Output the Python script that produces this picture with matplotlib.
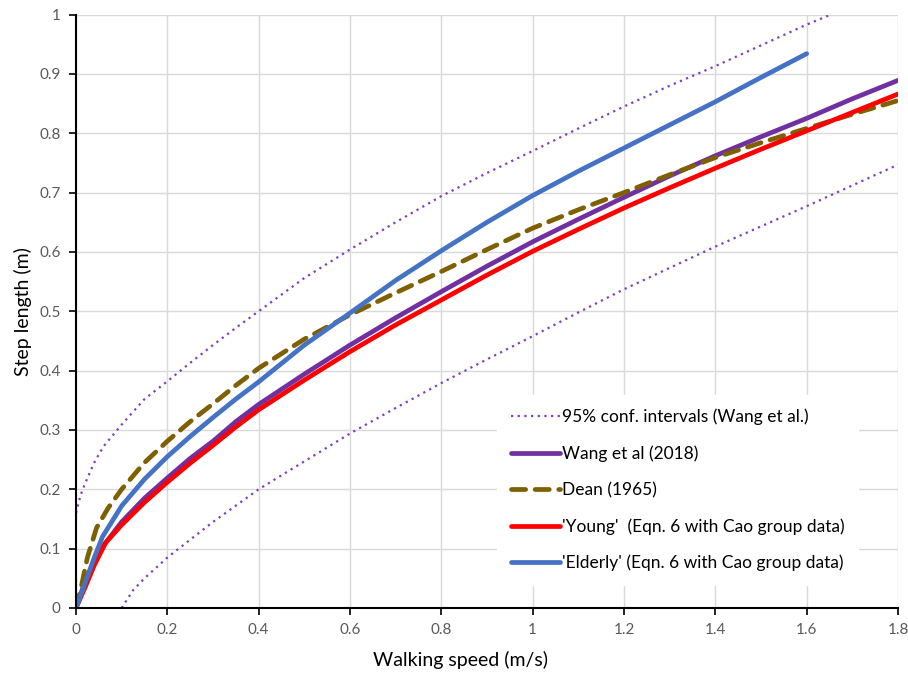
import matplotlib.pyplot as plt

plt.rcParams['font.family'] = ['Lato', 'DejaVu Sans']

# values
wang_x = [0, 0.02, 0.05, 0.1, 0.15, 0.2, 0.25, 0.3, 0.35, 0.4, 0.5, 0.6, 0.7, 0.8, 0.9,
          1.0, 1.1, 1.2, 1.3, 1.4, 1.5, 1.6, 1.7, 1.8]
wang_y = [0, 0.045, 0.095, 0.145, 0.185, 0.219, 0.252, 0.281, 0.314, 0.343, 0.394, 0.443,
          0.489, 0.533, 0.576, 0.617, 0.655, 0.692, 0.728, 0.762, 0.794, 0.825, 0.858, 0.889]

ci_upper_x = [0, 0.01, 0.02, 0.04, 0.06, 0.1, 0.15, 0.2, 0.25, 0.3, 0.35, 0.4, 0.5, 0.6,
              0.7, 0.8, 0.9, 1.0, 1.1, 1.2, 1.3, 1.4, 1.5, 1.6, 1.7]
ci_upper_y = [0.16, 0.19, 0.21, 0.245, 0.272, 0.309, 0.352, 0.382, 0.413, 0.443, 0.472, 0.5,
              0.556, 0.604, 0.65, 0.694, 0.733, 0.77, 0.808, 0.845, 0.88, 0.913, 0.948,
              0.983, 1.015]

ci_lower_x = [0.1, 0.125, 0.15, 0.2, 0.25, 0.3, 0.4, 0.5, 0.6, 0.7, 0.8, 0.9, 1.0, 1.1,
              1.2, 1.3, 1.4, 1.5, 1.6, 1.7, 1.8]
ci_lower_y = [0, 0.03, 0.05, 0.085, 0.115, 0.145, 0.2, 0.247, 0.294, 0.337, 0.379, 0.419,
              0.458, 0.498, 0.537, 0.573, 0.609, 0.643, 0.677, 0.712, 0.747]

dean_x = [0, 0.01, 0.025, 0.045, 0.07, 0.1, 0.15, 0.2, 0.25, 0.3, 0.35, 0.4, 0.5, 0.6,
          0.7, 0.8, 0.9, 1.0, 1.1, 1.2, 1.3, 1.4, 1.5, 1.6, 1.7, 1.8]
dean_y = [0, 0.03, 0.085, 0.135, 0.168, 0.2, 0.245, 0.281, 0.314, 0.344, 0.375, 0.404,
          0.453, 0.494, 0.531, 0.567, 0.604, 0.64, 0.671, 0.70, 0.73, 0.759, 0.784, 0.808,
          0.832, 0.855]

young_x = [0, 0.02, 0.04, 0.065, 0.1, 0.15, 0.2, 0.25, 0.3, 0.35, 0.4, 0.5, 0.6, 0.7, 0.8,
           0.9, 1.0, 1.1, 1.2, 1.3, 1.4, 1.5, 1.6, 1.7, 1.8]
young_y = [0, 0.035, 0.072, 0.11, 0.14, 0.178, 0.212, 0.244, 0.274, 0.305, 0.334, 0.384,
           0.432, 0.477, 0.519, 0.561, 0.601, 0.638, 0.674, 0.708, 0.741, 0.773, 0.804,
           0.835, 0.866]

elderly_x = [0, 0.02, 0.04, 0.058, 0.1, 0.15, 0.2, 0.25, 0.3, 0.35, 0.4, 0.5, 0.6, 0.7,
             0.8, 0.9, 1.0, 1.1, 1.2, 1.3, 1.4, 1.5, 1.6]
elderly_y = [0, 0.042, 0.085, 0.12, 0.172, 0.217, 0.255, 0.289, 0.321, 0.352, 0.381, 0.443,
             0.497, 0.552, 0.602, 0.65, 0.695, 0.736, 0.775, 0.814, 0.853, 0.894, 0.934]

x_ticks = [0, 0.2, 0.4, 0.6, 0.8, 1, 1.2, 1.4, 1.6, 1.8]
x_tick_labels = ['0', '0.2', '0.4', '0.6', '0.8', '1', '1.2', '1.4', '1.6', '1.8']
y_ticks = [0, 0.1, 0.2, 0.3, 0.4, 0.5, 0.6, 0.7, 0.8, 0.9, 1]
y_tick_labels = ['0', '0.1', '0.2', '0.3', '0.4', '0.5', '0.6', '0.7', '0.8', '0.9', '1']

fig = plt.figure(figsize=(9.08, 6.75), dpi=100)
ax = fig.add_axes([0.0837, 0.0993, 0.9053, 0.8792])

purple = '#7030A0'
ax.plot(ci_upper_x, ci_upper_y, color='#7F3FBF', lw=1.6, ls=(0, (1, 2)),
        label='95% conf. intervals (Wang et al.)', zorder=2)
ax.plot(ci_lower_x, ci_lower_y, color='#7F3FBF', lw=1.6, ls=(0, (1, 2)), zorder=2)
ax.plot(wang_x, wang_y, color=purple, lw=3.4, label='Wang et al (2018)', zorder=3,
        solid_capstyle='round', solid_joinstyle='round')
ax.plot(dean_x, dean_y, color='#7F6000', lw=3.4, ls=(0, (3, 2)), label='Dean (1965)',
        zorder=4, dash_capstyle='round')
ax.plot(young_x, young_y, color='#FF0000', lw=3.4,
        label="'Young'  (Eqn. 6 with Cao group data)", zorder=5,
        solid_capstyle='round', solid_joinstyle='round')
ax.plot(elderly_x, elderly_y, color='#4472C4', lw=3.4,
        label="'Elderly' (Eqn. 6 with Cao group data)", zorder=6,
        solid_capstyle='round', solid_joinstyle='round')

ax.set_xlim(0, 1.8)
ax.set_ylim(0, 1)
ax.set_xticks(x_ticks)
ax.set_xticklabels(x_tick_labels)
ax.set_yticks(y_ticks)
ax.set_yticklabels(y_tick_labels)
ax.grid(True, color='#D9D9D9', lw=1.0)
ax.set_axisbelow(True)

for side in ['top', 'right']:
    ax.spines[side].set_visible(False)
for side in ['left', 'bottom']:
    ax.spines[side].set_linewidth(1.5)
    ax.spines[side].set_color('black')
    ax.spines[side].set_zorder(7)

ax.tick_params(axis='both', direction='out', length=5, width=1.2, color='black',
               labelcolor='#595959', labelsize=11, pad=6)

ax.set_xlabel('Walking speed (m/s)', fontsize=14, color='black')
ax.xaxis.set_label_coords(0.468, -0.072)
ax.set_ylabel('Step length (m)', fontsize=14, color='black')
ax.yaxis.set_label_coords(-0.054, 0.5)

leg = ax.legend(loc='lower right', bbox_to_anchor=(0.962, 0.024), fontsize=12.5,
                frameon=True, fancybox=False, handlelength=2.8, handletextpad=0.1,
                labelspacing=1.15, borderpad=0.8)
leg.get_frame().set_facecolor('white')
leg.get_frame().set_edgecolor('white')
leg.get_frame().set_alpha(1)

plt.savefig('out.png', dpi=100)
